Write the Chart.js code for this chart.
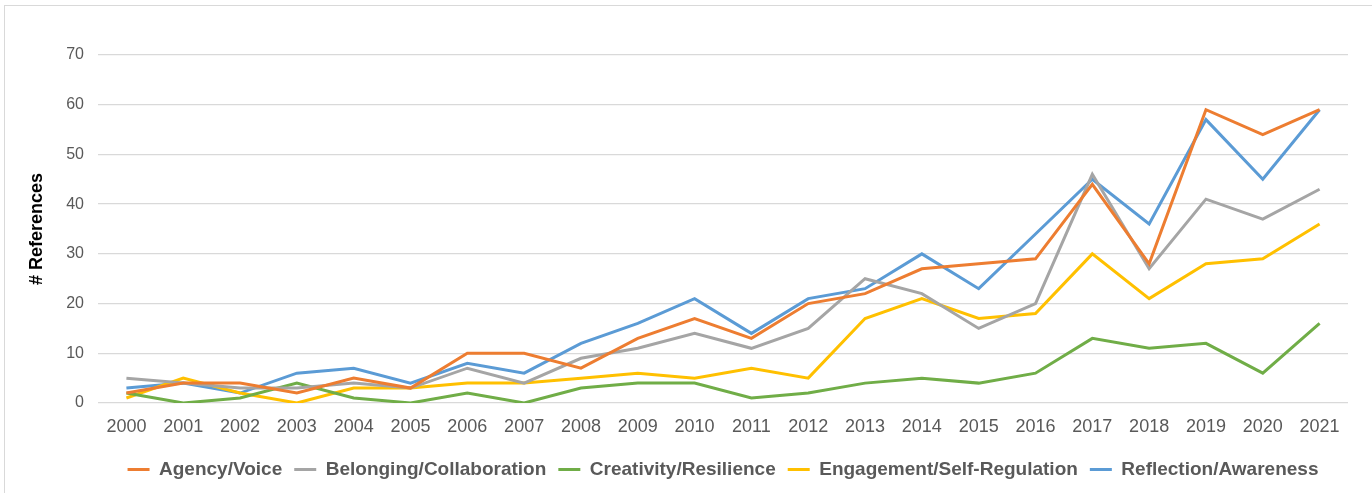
<!DOCTYPE html>
<html>
<head>
<meta charset="utf-8">
<script src="https://cdn.jsdelivr.net/npm/chart.js@4"></script>
<style>
  html, body { margin: 0; padding: 0; background: #fff; }
  #wrap { position: absolute; left: 0; top: 0; width: 1372px; height: 493px; }
  #frame { position: absolute; left: 4px; top: 5px; width: 1380px; height: 500px; border: 1px solid #d9d9d9; box-sizing: border-box; }
  canvas { position: absolute; left: 0; top: 0; }
</style>
</head>
<body>
<div id="wrap">
  <div id="frame"></div>
  <canvas id="c" width="1372" height="493"></canvas>
</div>
<script>
const years = ["2000","2001","2002","2003","2004","2005","2006","2007","2008","2009","2010","2011","2012","2013","2014","2015","2016","2017","2018","2019","2020","2021"];
const agencyVoice = [2,4,4,2,5,3,10,10,7,13,17,13,20,22,27,28,29,44,28,59,54,59];
const belongingCollaboration = [5,4,3,3,4,3,7,4,9,11,14,11,15,25,22,15,20,46,27,41,37,43];
const creativityResilience = [2,0,1,4,1,0,2,0,3,4,4,1,2,4,5,4,6,13,11,12,6,16];
const engagementSelfRegulation = [1,5,2,0,3,3,4,4,5,6,5,7,5,17,21,17,18,30,21,28,29,36];
const reflectionAwareness = [3,4,2,6,7,4,8,6,12,16,21,14,21,23,30,23,34,45,36,57,45,59];
const seriesNames = ["Agency/Voice","Belonging/Collaboration","Creativity/Resilience","Engagement/Self-Regulation","Reflection/Awareness"];
const yTicks = [0,10,20,30,40,50,60,70];

const colors = ["#ED7D31","#A5A5A5","#70AD47","#FFC000","#5B9BD5"];
const seriesData = [agencyVoice, belongingCollaboration, creativityResilience, engagementSelfRegulation, reflectionAwareness];

const datasets = seriesNames.map((n, i) => ({
  label: n,
  data: seriesData[i],
  borderColor: colors[i],
  backgroundColor: colors[i],
  borderWidth: 3,
  pointRadius: 0,
  tension: 0,
  fill: false
}));

const centerLegendOnPlot = {
  id: 'centerLegendOnPlot',
  afterLayout(chart) {
    const lg = chart.legend;
    if (!lg) return;
    lg.left = chart.chartArea.left;
    lg.right = chart.chartArea.right;
    lg.width = lg.right - lg.left;
    if (lg.adjustHitBoxes) lg.adjustHitBoxes();
  }
};

new Chart(document.getElementById('c'), {
  type: 'line',
  data: { labels: years, datasets: datasets },
  plugins: [centerLegendOnPlot],
  options: {
    responsive: false,
    animation: false,
    layout: { padding: { left: 26, right: 24, top: 55, bottom: 4 } },
    plugins: {
      tooltip: { enabled: false },
      legend: {
        position: 'bottom',
        labels: {
          font: { family: 'Liberation Sans, Arial, sans-serif', size: 19, weight: 'bold' },
          color: '#595959',
          boxWidth: 22,
          boxHeight: 3,
          padding: 12,
          generateLabels: (chart) => chart.data.datasets.map((d, i) => ({
            text: d.label,
            fillStyle: d.borderColor,
            strokeStyle: d.borderColor,
            lineWidth: 0,
            fontColor: '#595959',
            hidden: false,
            datasetIndex: i
          }))
        }
      }
    },
    scales: {
      x: {
        offset: true,
        grid: { display: false, drawTicks: false },
        border: { display: false },
        ticks: {
          font: { family: 'Liberation Sans, Arial, sans-serif', size: 18 },
          color: '#595959',
          padding: 13,
          maxRotation: 0,
          autoSkip: false
        },
        afterFit: (s) => { s.height = 45; }
      },
      y: {
        min: 0,
        max: 70,
        afterBuildTicks: (s) => { s.ticks = yTicks.map(v => ({ value: v })); },
        grid: { color: '#d9d9d9', lineWidth: 1.3, drawTicks: false },
        border: { display: false },
        ticks: {
          font: { family: 'Liberation Sans, Arial, sans-serif', size: 16 },
          color: '#595959',
          padding: 14
        },
        title: {
          display: true,
          text: '# References',
          font: { family: 'Liberation Sans, Arial, sans-serif', size: 18, weight: 'bold' },
          color: '#000',
          padding: { top: 0, bottom: 0 }
        },
        afterFit: (s) => { s.width = 72; }
      }
    }
  }
});
</script>
</body>
</html>
